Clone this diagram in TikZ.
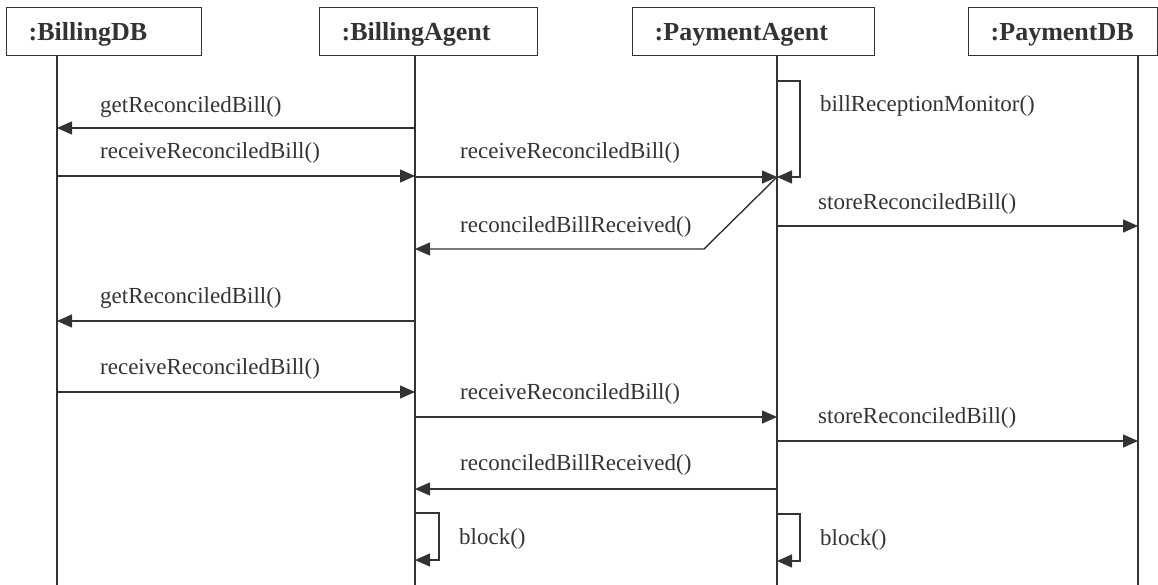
\documentclass[tikz,border=0pt]{standalone}
\usepackage{fontspec}
\setmainfont{Liberation Serif}
\usetikzlibrary{arrows.meta}
\definecolor{ink}{HTML}{333333}
\tikzset{
  obj/.style={draw=ink, line width=1.4pt, rectangle, anchor=north west,
    minimum height=48pt, inner xsep=22pt, inner ysep=0pt, align=left,
    text depth=0pt, font=\fontsize{26}{28}\selectfont\bfseries, text=ink},
  life/.style={draw=ink, line width=1.4pt},
  msg/.style={draw=ink, line width=1.4pt, -{Triangle[length=15pt,width=13pt]}},
  lbl/.style={anchor=west, inner sep=0pt, text=ink, font=\fontsize{23}{25}\selectfont}
}
\begin{document}
\begin{tikzpicture}[x=1pt, y=-1pt]
\useasboundingbox (0,0) rectangle (1158,584);

% object boxes
\node[obj, text width=151pt] (bdb) at (6,7) {:BillingDB};
\node[obj, text width=174pt] (ba)  at (319,7) {:BillingAgent};
\node[obj, text width=198pt] (pa)  at (632,7) {:Payment\-Agent};
\node[obj, text width=145pt] (pdb) at (968,7) {:PaymentDB};

% lifelines
\coordinate (bdbT) at (57,55);   \coordinate (bdbB) at (57,590);
\coordinate (baT)  at (415,55);  \coordinate (baB)  at (415,590);
\coordinate (paT)  at (777,55);  \coordinate (paB)  at (777,590);
\coordinate (pdbT) at (1138,55); \coordinate (pdbB) at (1138,590);
\draw[life] (bdbT) -- (bdbB);
\draw[life] (baT) -- (baB);
\draw[life] (paT) -- (paB);
\draw[life] (pdbT) -- (pdbB);

% message anchor points on the lifelines
\coordinate (bdb1) at (57,128);  \coordinate (ba1) at (415,128);
\coordinate (bdb2) at (57,176);  \coordinate (ba2) at (415,176);
\coordinate (ba3)  at (415,177); \coordinate (pa3) at (777,177);
\coordinate (pa4a) at (777,81);  \coordinate (pa4b) at (800,81);
\coordinate (pa4c) at (800,177);
\coordinate (pa5)  at (777,226); \coordinate (pdb5) at (1138,226);
\coordinate (bend6) at (704,249); \coordinate (ba6) at (415,249);
\coordinate (bdb7) at (57,321);  \coordinate (ba7) at (415,321);
\coordinate (bdb8) at (57,392);  \coordinate (ba8) at (415,392);
\coordinate (ba9)  at (415,417); \coordinate (pa9) at (777,417);
\coordinate (pa10) at (777,441); \coordinate (pdb10) at (1138,441);
\coordinate (pa11) at (777,489); \coordinate (ba11) at (415,489);
\coordinate (ba12a) at (415,513); \coordinate (ba12b) at (439,513);
\coordinate (ba12c) at (439,560); \coordinate (ba12d) at (415,560);
\coordinate (pa13a) at (777,514); \coordinate (pa13b) at (800,514);
\coordinate (pa13c) at (800,561); \coordinate (pa13d) at (777,561);

% messages
\draw[msg] (ba1) -- (bdb1);
\draw[msg] (bdb2) -- (ba2);
\draw[msg] (ba3) -- (pa3);
\draw[msg] (pa4a) -- (pa4b) -- (pa4c) -- (pa3);
\draw[msg] (pa5) -- (pdb5);
\draw[msg] (pa3) -- (bend6) -- (ba6);
\draw[msg] (ba7) -- (bdb7);
\draw[msg] (bdb8) -- (ba8);
\draw[msg] (ba9) -- (pa9);
\draw[msg] (pa10) -- (pdb10);
\draw[msg] (pa11) -- (ba11);
\draw[msg] (ba12a) -- (ba12b) -- (ba12c) -- (ba12d);
\draw[msg] (pa13a) -- (pa13b) -- (pa13c) -- (pa13d);

% labels
\node[lbl] (l1)  at (100,107) {getReconciledBill()};
\node[lbl] (l2)  at (100,153) {receiveReconciledBill()};
\node[lbl] (l3)  at (460,153) {receiveReconciledBill()};
\node[lbl] (l4)  at (820,106) {billReceptionMonitor()};
\node[lbl] (l5)  at (818,204) {storeReconciledBill()};
\node[lbl] (l6)  at (460,227) {reconciledBillReceived()};
\node[lbl] (l7)  at (100,298) {getReconciledBill()};
\node[lbl] (l8)  at (100,369) {receiveReconciledBill()};
\node[lbl] (l9)  at (460,394) {receiveReconciledBill()};
\node[lbl] (l10) at (818,418) {storeReconciledBill()};
\node[lbl] (l11) at (460,465) {reconciledBillReceived()};
\node[lbl] (l12) at (459,539) {block()};
\node[lbl] (l13) at (820,540) {block()};
\end{tikzpicture}
\end{document}
